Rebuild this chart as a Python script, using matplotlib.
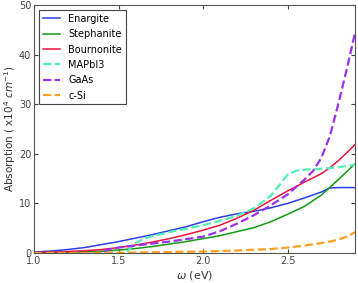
import numpy as np
import matplotlib
matplotlib.use("Agg")
from matplotlib import pyplot as plt

# photon energy grid (eV)
omega = [1.0, 1.1, 1.2, 1.3, 1.4, 1.5, 1.6, 1.7, 1.8, 1.9, 2.0, 2.1, 2.2, 2.3,
         2.4, 2.5, 2.6, 2.7, 2.75, 2.8, 2.85, 2.9]

# absorption values (x10^4 cm^-1)
enargite = [0.2, 0.4, 0.7, 1.1, 1.7, 2.3, 3.0, 3.7, 4.5, 5.3, 6.3, 7.2, 7.9, 8.4,
            9.1, 10.0, 11.1, 12.3, 13.1, 13.2, 13.2, 13.2]
stephanite = [0.05, 0.1, 0.15, 0.25, 0.35, 0.6, 0.9, 1.3, 1.8, 2.3, 2.9, 3.5, 4.3, 5.1,
              6.3, 7.8, 9.4, 11.7, 13.2, 14.8, 16.4, 18.0]
bournonite = [0.1, 0.15, 0.3, 0.45, 0.7, 1.1, 1.6, 2.2, 2.9, 3.7, 4.6, 5.6, 7.0, 8.6,
              10.6, 12.5, 14.3, 16.0, 17.2, 18.6, 20.2, 21.9]
omega_mapi = [1.55, 1.6, 1.65, 1.7, 1.8, 1.9, 2.0, 2.1, 2.2, 2.3, 2.4, 2.45, 2.5,
              2.55, 2.6, 2.7, 2.8, 2.9]
mapbi3 = [0.2, 2.0, 2.9, 3.4, 4.2, 4.9, 5.6, 6.5, 7.5, 9.0, 11.5, 13.6, 15.8,
          16.6, 16.8, 17.0, 17.3, 17.8]
omega_gaas = [1.0, 1.41, 1.43, 1.5, 1.6, 1.7, 1.8, 1.9, 2.0, 2.1, 2.2, 2.3, 2.4, 2.5,
              2.6, 2.65, 2.7, 2.75, 2.8, 2.85, 2.9]
gaas = [0.0, 0.0, 0.6, 1.1, 1.5, 1.9, 2.3, 2.8, 3.3, 4.4, 5.9, 7.6, 9.6, 11.8,
        14.8, 16.5, 19.2, 23.5, 30.0, 37.0, 44.5]
csi = [0.0, 0.0, 0.0, 0.0, 0.02, 0.05, 0.1, 0.15, 0.2, 0.25, 0.3, 0.4, 0.5, 0.65,
       0.8, 1.1, 1.5, 2.0, 2.3, 2.7, 3.3, 4.2]

labels = ["Enargite", "Stephanite", "Bournonite", "MAPbI3", "GaAs", "c-Si"]
colors = ["#2b3fe8", "#129a12", "#e8143c", "#50f0b0", "#9b30f0", "#ffa020"]

plt.rcParams["font.family"] = "DejaVu Sans"
fig = plt.figure(figsize=(3.58, 2.83), dpi=100)
ax = fig.add_axes([0.095, 0.106, 0.897, 0.876])

ax.plot(omega, enargite, color=colors[0], lw=1.1, label=labels[0])
ax.plot(omega, stephanite, color=colors[1], lw=1.1, label=labels[1])
ax.plot(omega, bournonite, color=colors[2], lw=1.1, label=labels[2])
ax.plot(omega_mapi, mapbi3, color=colors[3], lw=1.6, ls="--", label=labels[3])
ax.plot(omega_gaas, gaas, color=colors[4], lw=1.6, ls="--", label=labels[4])
ax.plot(omega, csi, color=colors[5], lw=1.6, ls="--", label=labels[5])

ax.set_xlim(1.0, 2.9)
ax.set_ylim(0, 50)
ax.set_xticks([1.0, 1.5, 2.0, 2.5])
ax.set_yticks([0, 10, 20, 30, 40, 50])
ax.tick_params(direction="in", top=True, right=True, labelsize=7,
               colors="#444444", length=3, pad=2)
for s in ax.spines.values():
    s.set_color("#555555")

ax.set_xlabel(r"$\omega$ (eV)", fontsize=8, color="#333333", labelpad=2)
ax.set_ylabel(r"Absorption ( x10$^4$ $cm^{-1}$)", fontsize=7.5, color="#333333")
ax.yaxis.set_label_coords(-0.05, 0.5)

leg = ax.legend(loc="upper left", fontsize=7, fancybox=False, framealpha=1,
                edgecolor="#444444", handlelength=1.8, borderpad=0.4,
                labelspacing=0.55)
leg.get_frame().set_linewidth(0.8)

fig.savefig("out.png", dpi=100)
